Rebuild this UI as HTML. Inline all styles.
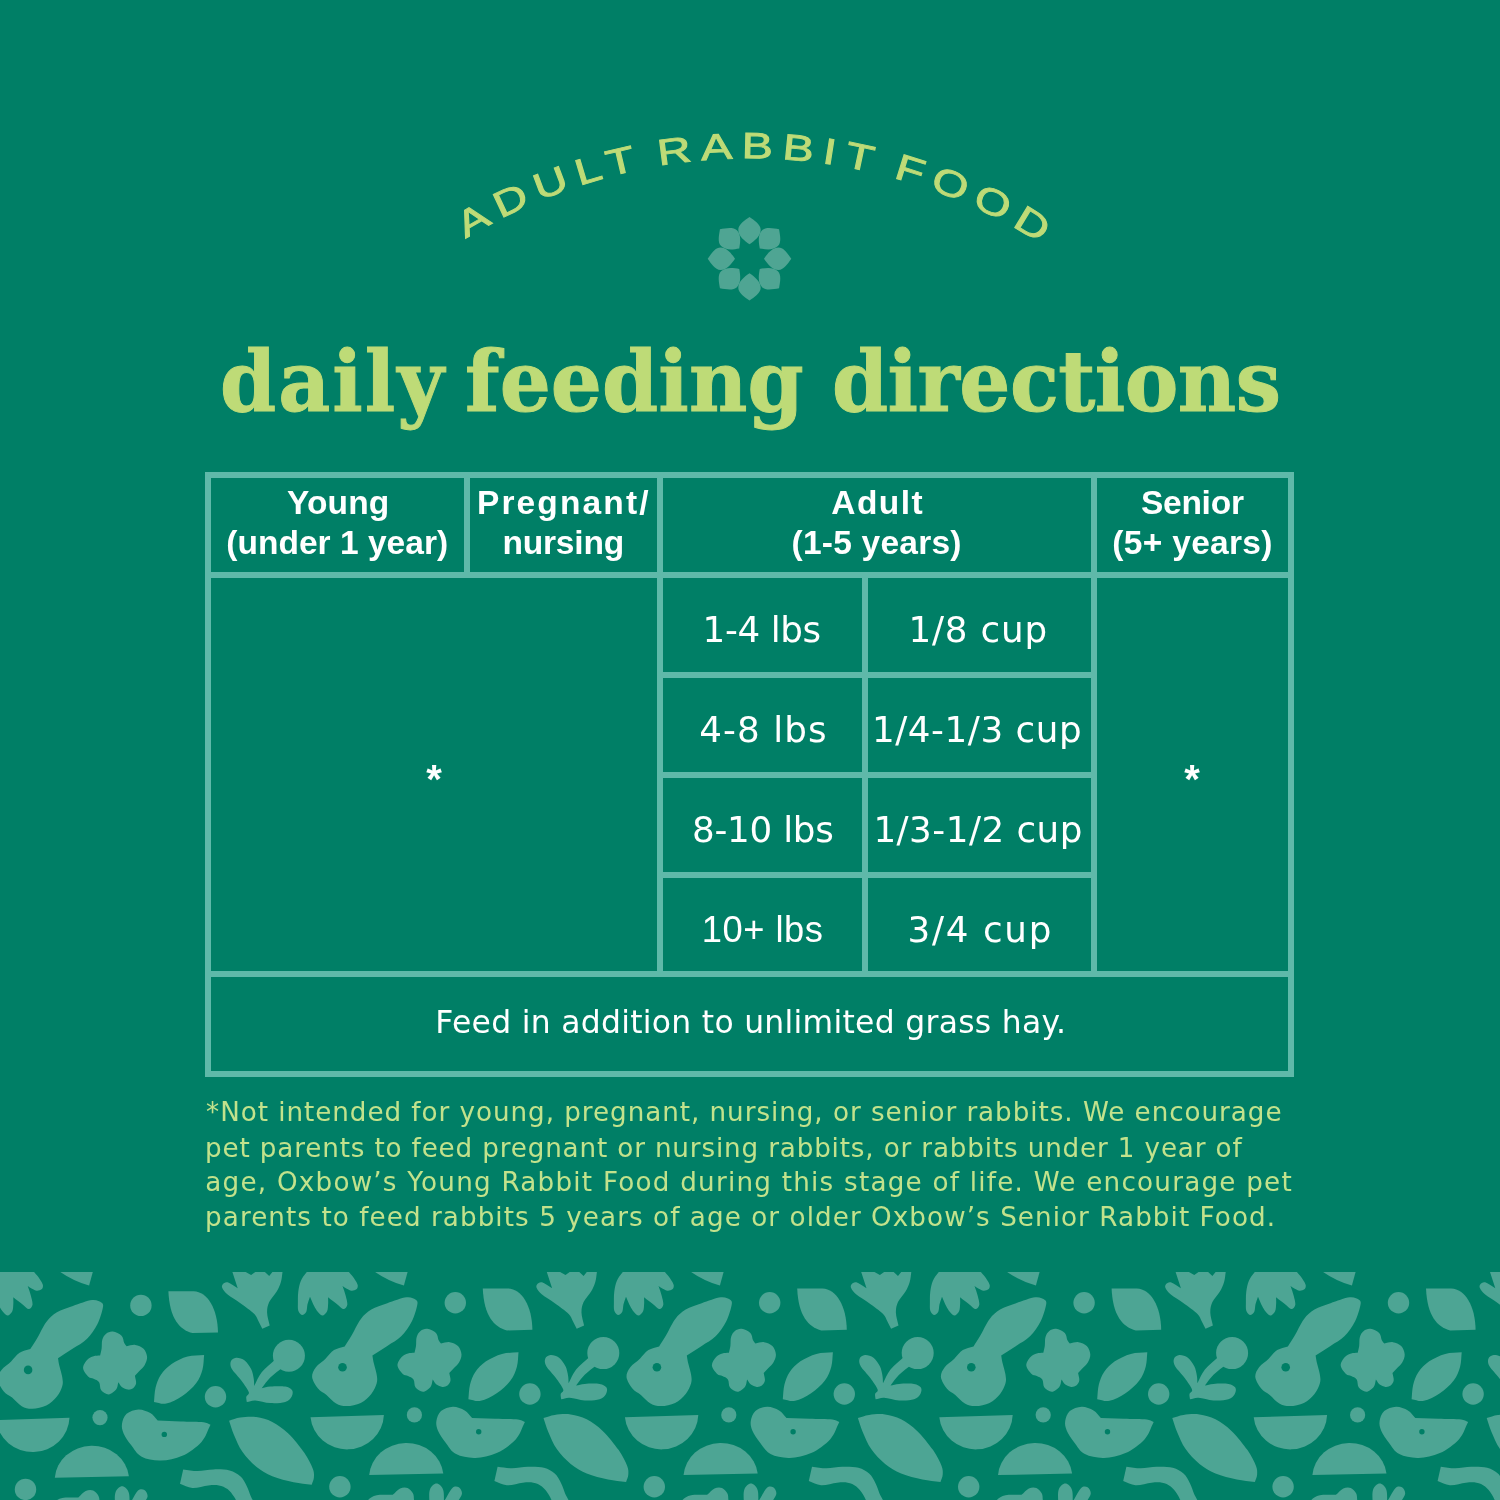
<!DOCTYPE html>
<html lang="en">
<head>
<meta charset="utf-8">
<title>Adult Rabbit Food – daily feeding directions</title>
<style>
html,body{margin:0;padding:0;}
body{width:1500px;height:1500px;background:#007f66;overflow:hidden;position:relative;font-family:"Liberation Sans",sans-serif;}
#page{position:absolute;left:0;top:0;width:1500px;height:1500px;overflow:hidden;background:#007f66;}
.ln{position:absolute;background:#5fb9a9;}
#arc{position:absolute;left:0;top:0;width:1500px;height:460px;}
#arc text{font-family:"Liberation Sans",sans-serif;font-weight:normal;fill:#bedb77;stroke:#bedb77;stroke-width:0.9px;}
.t.big{line-height:100px;-webkit-text-stroke:1px #bedb77;}
h1,p.note{margin:0;padding:0;font-size:inherit;font-weight:inherit;}
.t{display:block;position:absolute;white-space:nowrap;line-height:40px;margin:0;}
.ast{position:absolute;width:60px;height:60px;line-height:60px;text-align:center;color:#fff;font-family:"Liberation Sans",sans-serif;font-weight:bold;font-size:40px;}
#pat{position:absolute;left:0;top:1272px;width:1500px;height:228px;}
</style>
</head>
<body>
<div id="page">

<svg id="arc" viewBox="0 0 1500 460">
  <defs><path id="arcpath" d="M 208.9 699 A 540.6 540.6 0 0 1 1290.1 699"/></defs>
  <text font-size="36.5" letter-spacing="7" word-spacing="-6" text-anchor="middle" textLength="614.8" lengthAdjust="spacingAndGlyphs"><textPath href="#arcpath" startOffset="857.7">ADULT RABBIT FOOD</textPath></text>
  <g transform="translate(749.5,258.7)" fill="#4fa593">
    <defs><path id="petal" d="M0,-14.5 C5,-18 11.2,-22.5 11.2,-29 C11.2,-34.5 4.5,-38.5 0,-41.8 C-4.5,-38.5 -11.2,-34.5 -11.2,-29 C-11.2,-22.5 -5,-18 0,-14.5 Z"/></defs>
    <use href="#petal" transform="rotate(0)"/>
    <use href="#petal" transform="rotate(45)"/>
    <use href="#petal" transform="rotate(90)"/>
    <use href="#petal" transform="rotate(135)"/>
    <use href="#petal" transform="rotate(180)"/>
    <use href="#petal" transform="rotate(225)"/>
    <use href="#petal" transform="rotate(270)"/>
    <use href="#petal" transform="rotate(315)"/>
  </g>
</svg>


<!-- table lines -->
<div class="ln" style="left:205px;top:472px;width:1089px;height:6px"></div>
<div class="ln" style="left:205px;top:572px;width:1089px;height:6px"></div>
<div class="ln" style="left:205px;top:971px;width:1089px;height:6px"></div>
<div class="ln" style="left:205px;top:1071px;width:1089px;height:6px"></div>
<div class="ln" style="left:657px;top:672px;width:440px;height:6px"></div>
<div class="ln" style="left:657px;top:772px;width:440px;height:6px"></div>
<div class="ln" style="left:657px;top:872px;width:440px;height:6px"></div>
<div class="ln" style="left:205px;top:472px;width:6px;height:605px"></div>
<div class="ln" style="left:1288px;top:472px;width:6px;height:605px"></div>
<div class="ln" style="left:464px;top:472px;width:6px;height:106px"></div>
<div class="ln" style="left:657px;top:472px;width:6px;height:505px"></div>
<div class="ln" style="left:1091px;top:472px;width:6px;height:505px"></div>
<div class="ln" style="left:862px;top:572px;width:6px;height:405px"></div>

<h1>
<span class="t big" style="left:220.0px;top:331.4px;font-family:'DejaVu Serif','Liberation Serif',serif;font-size:85px;font-weight:bold;color:#bedb77;letter-spacing:2.12px;transform:scaleX(0.9455);transform-origin:0 0">daily</span>
<span class="t big" style="left:464.6px;top:331.4px;font-family:'DejaVu Serif','Liberation Serif',serif;font-size:85px;font-weight:bold;color:#bedb77;letter-spacing:0.07px;transform:scaleX(0.9455);transform-origin:0 0">feeding</span>
<span class="t big" style="left:831.8px;top:331.4px;font-family:'DejaVu Serif','Liberation Serif',serif;font-size:85px;font-weight:bold;color:#bedb77;letter-spacing:-0.61px;transform:scaleX(0.9455);transform-origin:0 0">directions</span>
</h1>
<div class="thead">
<span class="t" style="left:287.1px;top:483.1px;font-family:'Liberation Sans',sans-serif;font-size:33.5px;font-weight:bold;color:#fff;letter-spacing:0.10px">Young</span>
<span class="t" style="left:226.3px;top:522.9px;font-family:'Liberation Sans',sans-serif;font-size:33.5px;font-weight:bold;color:#fff;letter-spacing:0.02px">(under 1 year)</span>
<span class="t" style="left:476.9px;top:483.1px;font-family:'Liberation Sans',sans-serif;font-size:33.5px;font-weight:bold;color:#fff;letter-spacing:2.15px">Pregnant/</span>
<span class="t" style="left:502.5px;top:522.9px;font-family:'Liberation Sans',sans-serif;font-size:33.5px;font-weight:bold;color:#fff;letter-spacing:-0.20px">nursing</span>
<span class="t" style="left:831.3px;top:483.1px;font-family:'Liberation Sans',sans-serif;font-size:33.5px;font-weight:bold;color:#fff;letter-spacing:1.45px">Adult</span>
<span class="t" style="left:791.5px;top:522.9px;font-family:'Liberation Sans',sans-serif;font-size:33.5px;font-weight:bold;color:#fff;letter-spacing:0.24px">(1-5 years)</span>
<span class="t" style="left:1140.9px;top:483.1px;font-family:'Liberation Sans',sans-serif;font-size:33.5px;font-weight:bold;color:#fff;letter-spacing:-0.24px">Senior</span>
<span class="t" style="left:1112.3px;top:522.9px;font-family:'Liberation Sans',sans-serif;font-size:33.5px;font-weight:bold;color:#fff;letter-spacing:0.31px">(5+ years)</span>
</div>
<div class="tbody">
<span class="t" style="left:702.6px;top:610.2px;font-family:'DejaVu Sans','Liberation Sans',sans-serif;font-size:35.7px;color:#fff;letter-spacing:-0.40px">1-4 lbs</span>
<span class="t" style="left:908.4px;top:610.2px;font-family:'DejaVu Sans','Liberation Sans',sans-serif;font-size:35.7px;color:#fff;letter-spacing:0.83px">1/8 cup</span>
<span class="t" style="left:699.2px;top:710.0px;font-family:'DejaVu Sans','Liberation Sans',sans-serif;font-size:35.7px;color:#fff;letter-spacing:1.10px">4-8 lbs</span>
<span class="t" style="left:872.0px;top:710.0px;font-family:'DejaVu Sans','Liberation Sans',sans-serif;font-size:35.7px;color:#fff;letter-spacing:0.56px">1/4-1/3 cup</span>
<span class="t" style="left:692.0px;top:809.6px;font-family:'DejaVu Sans','Liberation Sans',sans-serif;font-size:35.7px;color:#fff;letter-spacing:-0.23px">8-10 lbs</span>
<span class="t" style="left:873.4px;top:809.6px;font-family:'DejaVu Sans','Liberation Sans',sans-serif;font-size:35.7px;color:#fff;letter-spacing:0.50px">1/3-1/2 cup</span>
<span class="t" style="left:701.8px;top:909.8px;font-family:'Liberation Sans',sans-serif;font-size:36.3px;color:#fff;letter-spacing:0.50px">10+ lbs</span>
<span class="t" style="left:907.6px;top:910.0px;font-family:'DejaVu Sans','Liberation Sans',sans-serif;font-size:35.7px;color:#fff;letter-spacing:1.67px">3/4 cup</span>
</div>
<div class="tfoot">
<span class="t" style="left:435.3px;top:1002.4px;font-family:'DejaVu Sans','Liberation Sans',sans-serif;font-size:31.4px;color:#fff;letter-spacing:0.30px">Feed in addition to unlimited grass hay.</span>
</div>

<div class="ast" style="left:404px;top:749px;">*</div>
<div class="ast" style="left:1162px;top:749px;">*</div>

<p class="note">
<span class="t" style="left:206.1px;top:1092.4px;font-family:'DejaVu Sans','Liberation Sans',sans-serif;font-size:26.2px;color:#c2e28c;letter-spacing:0.96px">*Not intended for young, pregnant, nursing, or senior rabbits. We encourage</span>
<span class="t" style="left:205.1px;top:1127.5px;font-family:'DejaVu Sans','Liberation Sans',sans-serif;font-size:26.2px;color:#c2e28c;letter-spacing:0.85px">pet parents to feed pregnant or nursing rabbits, or rabbits under 1 year of</span>
<span class="t" style="left:205.3px;top:1162.3px;font-family:'DejaVu Sans','Liberation Sans',sans-serif;font-size:26.2px;color:#c2e28c;letter-spacing:1.24px">age, Oxbow’s Young Rabbit Food during this stage of life. We encourage pet</span>
<span class="t" style="left:205.1px;top:1197.1px;font-family:'DejaVu Sans','Liberation Sans',sans-serif;font-size:26.2px;color:#c2e28c;letter-spacing:1.07px">parents to feed rabbits 5 years of age or older Oxbow’s Senior Rabbit Food.</span>
</p>

<svg id="pat" viewBox="0 1272 1500 228">
<defs><g id="tileB">
<path d="M348.9,1272.0C351.3,1274.8 352.8,1276.5 354.3,1278.7C355.8,1280.9 357.4,1283.3 357.7,1285.1C358.0,1286.9 357.4,1288.4 356.4,1289.3C355.4,1290.2 353.2,1290.8 351.6,1290.7C350.0,1290.6 348.3,1289.6 346.8,1288.8C345.3,1288.0 343.9,1287.0 342.5,1286.1C343.6,1289.3 344.9,1292.6 345.7,1295.7C346.5,1298.8 347.6,1302.6 347.3,1304.8C347.0,1307.0 345.1,1309.0 343.6,1309.1C342.1,1309.2 340.1,1306.6 338.3,1305.3C336.5,1304.0 334.6,1302.4 332.9,1301.1C331.2,1299.8 329.7,1298.6 328.1,1297.3C328.1,1299.6 328.3,1302.0 328.1,1304.3C327.9,1306.6 328.1,1309.3 327.1,1311.2C326.1,1313.1 324.0,1315.6 322.3,1315.5C320.6,1315.4 318.4,1312.6 316.9,1310.7C315.4,1308.8 314.3,1306.6 313.2,1304.3C312.1,1302.0 311.1,1299.3 310.0,1296.8C309.2,1299.3 308.1,1301.8 307.5,1304.3C306.9,1306.8 307.2,1309.9 306.3,1311.7C305.4,1313.5 303.3,1315.1 302.0,1314.9C300.7,1314.7 299.0,1312.8 298.3,1310.7C297.6,1308.6 297.9,1305.3 297.9,1302.1C297.9,1298.9 297.8,1295.0 298.3,1291.5C298.8,1288.0 299.5,1284.0 300.9,1280.8C302.3,1277.5 304.3,1275.1 306.8,1272.0C309.3,1268.9 310.5,1263.7 316.0,1262.0C321.5,1260.3 334.5,1260.3 340.0,1262.0C345.5,1263.7 346.5,1269.2 348.9,1272.0Z"/>
<path d="M375.1,1272 L374,1266 L409,1266 L407.6,1272 L403.9,1285.6 Q388,1281 375.1,1272Z"/>
</g><g id="tileT"><path d="M546.8,1272.0L552.1,1288.2C548.7,1286.2 544.5,1283.0 542.0,1282.3C539.8,1281.7 538.1,1283.2 537.2,1284.2C536.3,1285.2 536.0,1286.5 536.7,1288.1C537.5,1289.8 539.1,1292.1 542.0,1294.5C545.0,1297.0 550.3,1300.0 554.8,1303.2C559.2,1306.4 565.7,1310.9 568.7,1313.9C571.4,1316.6 571.6,1318.8 572.9,1321.3C574.2,1323.8 575.4,1326.3 576.7,1328.8L584.1,1325.6C583.2,1321.3 581.6,1316.7 581.5,1312.8C581.4,1308.9 582.0,1305.6 583.6,1302.1C585.2,1298.5 589.2,1294.9 591.1,1291.5C593.0,1288.1 594.3,1285.2 595.3,1281.9C596.3,1278.7 596.4,1275.3 596.9,1272.0L597.0,1266.0L586.8,1266.0L586.8,1272.0L583.6,1276.0L579.3,1272.0L579.3,1266.0L569.7,1266.0L569.7,1272.0L565.5,1274.9L560.1,1272.0L560.0,1266.0L546.0,1266.0L546.8,1272.0Z"/></g><g id="tile">
<path d="M312.1,1377.0C311.8,1373.5 313.7,1370.2 315.9,1367.2C318.1,1364.2 322.5,1361.6 325.5,1358.7C328.5,1355.8 330.8,1352.1 334.0,1350.1C337.2,1348.0 341.1,1347.6 344.7,1346.4C346.8,1343.0 348.4,1340.8 351.1,1336.3C353.8,1331.8 357.3,1323.7 360.7,1319.2C364.1,1314.8 366.9,1312.3 371.3,1309.6C375.7,1306.9 381.4,1305.2 387.3,1303.2C393.2,1301.2 401.7,1297.8 406.5,1297.3C411.0,1296.8 414.3,1298.7 416.1,1300.0C417.9,1301.3 417.7,1302.9 417.2,1305.3C416.5,1308.8 414.6,1316.1 411.9,1321.3C409.2,1326.5 405.3,1332.2 401.2,1336.3C397.1,1340.4 392.1,1342.7 387.3,1345.9C382.5,1349.1 377.4,1352.3 372.4,1355.5C372.8,1357.7 372.9,1359.1 373.5,1362.0C374.2,1365.2 376.2,1371.2 376.7,1374.7C377.2,1378.2 377.6,1380.0 376.7,1383.2C375.8,1386.4 374.0,1390.6 371.3,1393.9C368.6,1397.2 364.8,1400.9 360.7,1402.9C356.6,1404.9 350.9,1406.0 346.8,1406.1C342.7,1406.2 339.5,1405.4 336.1,1403.5C332.7,1401.6 329.5,1397.4 326.5,1394.9C323.5,1392.4 320.4,1391.5 318.0,1388.5C315.6,1385.5 312.5,1380.5 312.1,1377.0Z"/>
<path d="M427.3,1328.8C429.9,1329.1 434.1,1331.1 436.0,1333.0C437.9,1334.9 437.7,1338.2 438.5,1340.0C439.3,1341.7 440.2,1342.3 441.0,1343.5C443.9,1343.1 446.9,1341.8 449.7,1342.2C452.5,1342.6 456.0,1344.0 458.0,1346.0C460.0,1348.0 461.3,1351.7 461.5,1354.4C461.7,1357.2 460.2,1360.2 459.0,1362.5C457.8,1364.8 455.6,1366.2 454.0,1368.0C452.4,1369.8 450.9,1371.3 449.3,1373.0C449.7,1375.5 450.8,1378.4 450.5,1380.5C450.2,1382.6 448.9,1384.4 447.5,1385.5C446.1,1386.6 444.1,1387.1 442.3,1386.9C440.5,1386.7 438.1,1385.7 436.5,1384.5C434.9,1383.3 434.0,1381.2 432.7,1379.5C432.0,1382.0 432.1,1384.9 430.5,1386.9C428.9,1388.9 425.6,1391.6 423.1,1391.7C420.6,1391.8 417.2,1389.5 415.6,1387.5C414.0,1385.5 414.8,1381.4 413.5,1379.5C412.2,1377.6 409.8,1376.9 408.0,1376.0C406.2,1375.1 404.6,1375.8 402.8,1374.1C401.1,1372.4 397.7,1368.4 397.5,1365.6C397.3,1362.8 399.9,1359.1 401.7,1357.1C403.4,1355.1 405.9,1354.2 408.0,1353.5C410.1,1352.8 412.3,1353.0 414.5,1352.8C415.0,1350.5 415.6,1348.6 416.0,1346.0C416.4,1343.4 415.9,1339.5 416.7,1337.0C417.4,1334.5 418.7,1332.4 420.5,1331.0C422.3,1329.6 424.7,1328.5 427.3,1328.8Z"/>
<path d="M482.8,1288.5 L508,1288.5 C522,1289 532,1306 532.4,1329.8 L507,1330.4 C494,1327 484,1316 482.8,1288.5Z"/>
<path d="M518.5,1352.3C518.0,1357.1 518.2,1362.0 516.9,1366.7C515.6,1371.4 513.9,1376.1 510.5,1380.5C507.1,1384.9 501.7,1389.9 496.7,1393.3C491.7,1396.7 485.4,1399.8 480.7,1400.8C476.0,1401.8 472.5,1399.7 468.4,1399.2C468.9,1394.4 468.9,1389.3 470.0,1384.8C471.1,1380.3 472.6,1375.9 475.3,1372.0C478.0,1368.1 481.6,1364.3 486.0,1361.3C490.4,1358.3 496.6,1355.4 502.0,1353.9C507.4,1352.4 513.0,1352.8 518.5,1352.3Z"/>
<path d="M563.3,1389.7C562.5,1387.0 558.7,1381.9 555.9,1378.0C553.1,1374.1 548.1,1369.5 546.3,1366.3C544.6,1363.3 544.5,1360.7 545.2,1358.8C545.9,1356.9 548.2,1355.3 550.5,1355.1C552.8,1354.9 556.6,1355.8 559.1,1357.7C561.6,1359.6 564.0,1363.3 565.5,1366.3C567.0,1369.3 567.6,1373.1 568.1,1375.9C568.6,1378.7 568.4,1380.8 568.6,1383.3C571.1,1378.7 572.5,1374.0 576.1,1369.5C579.7,1365.0 585.4,1360.8 590.0,1356.5L597.5,1364.5C593.2,1367.9 588.3,1371.3 584.7,1374.8C581.1,1378.3 579.0,1381.9 576.1,1385.5C579.0,1385.0 580.8,1384.2 584.7,1383.9C588.6,1383.6 596.0,1383.3 599.6,1383.9C603.1,1384.5 605.4,1385.9 606.5,1387.6C607.6,1389.3 607.1,1392.0 606.0,1394.0C604.9,1396.0 603.1,1398.2 599.6,1399.3C596.1,1400.4 589.7,1400.7 584.7,1400.4C579.7,1400.1 573.6,1397.9 569.7,1397.7C565.8,1397.5 564.0,1398.8 561.2,1399.3C561.0,1397.5 560.4,1395.6 560.7,1394.0C561.1,1392.4 563.9,1391.9 563.3,1389.7Z"/>
<path d="M310.5,1417.3 L383.9,1415 A36.8,35.6 -2 0 1 310.5,1417.3Z"/>
<path d="M436.4,1421.1C436.9,1417.8 438.2,1413.4 441.0,1411.0C443.8,1408.6 448.9,1406.8 452.9,1406.7C456.8,1406.6 461.5,1408.5 464.7,1410.4C467.9,1412.3 469.6,1415.4 472.1,1417.9L495.0,1418.7C502.7,1419.0 513.0,1418.9 518.0,1419.5C521.3,1419.9 522.6,1421.2 524.9,1422.1C521.9,1427.8 520.6,1434.0 515.9,1439.2C511.2,1444.4 503.5,1450.0 496.7,1453.1C489.9,1456.2 482.1,1457.7 475.3,1457.9C468.5,1458.1 461.1,1456.7 456.1,1454.1C451.1,1451.5 448.5,1446.3 445.5,1442.4C442.5,1438.5 439.5,1434.2 438.0,1430.7C436.5,1427.2 435.9,1424.4 436.4,1421.1Z"/>
<path d="M543.5,1418.1C547.2,1417.0 550.2,1415.5 554.7,1414.9C559.2,1414.3 565.4,1413.7 570.7,1414.4C576.0,1415.1 581.4,1416.5 586.7,1419.2C592.0,1422.0 597.4,1425.8 602.7,1430.9C608.0,1436.1 614.6,1444.2 618.7,1450.1C622.8,1456.0 625.6,1462.0 627.2,1466.1C628.6,1469.7 628.5,1472.0 628.3,1474.7C628.1,1477.4 626.8,1479.6 626.1,1482.1C620.1,1481.2 614.6,1480.9 608.0,1479.5C601.4,1478.1 592.9,1476.2 586.7,1473.6C580.5,1471.0 575.7,1468.1 570.7,1464.0C565.7,1459.9 560.5,1454.4 556.8,1449.1C553.1,1443.8 550.5,1437.2 548.3,1432.0C546.1,1426.8 545.1,1422.7 543.5,1418.1Z"/>
<path d="M369.2,1475.1 A37.2,34.2 -1.3 0 1 443.3,1473.5Z"/>
<path d="M497.6,1466.7C502.4,1467.2 506.9,1468.3 512.0,1468.3C517.1,1468.3 522.7,1466.8 528.0,1466.7C533.3,1466.6 539.5,1466.6 544.0,1467.7C548.5,1468.8 551.9,1471.0 554.7,1473.6C557.6,1476.2 559.3,1479.8 561.1,1483.2C562.9,1486.6 564.1,1491.1 565.3,1493.9C566.5,1496.7 567.7,1498.0 568.5,1500.0C569.3,1502.0 569.5,1504.0 570.0,1506.0L553.0,1506.0C552.5,1504.0 552.3,1502.0 551.5,1500.0C550.7,1498.0 549.9,1496.2 548.3,1493.9C546.7,1491.6 544.4,1488.3 541.9,1486.4C539.4,1484.5 536.5,1483.3 533.3,1482.7C530.1,1482.1 527.1,1482.3 522.7,1482.7C518.3,1483.1 511.4,1485.6 506.7,1485.3C502.0,1485.0 498.5,1482.5 494.4,1481.1L497.6,1466.7Z"/>
<path d="M366.0,1506.0C366.7,1504.0 366.3,1501.8 368.1,1500.0C369.9,1498.2 372.6,1496.2 376.7,1495.3C380.8,1494.4 387.4,1495.0 392.7,1494.8C395.2,1492.7 397.6,1489.6 400.1,1488.4C402.6,1487.2 405.5,1487.1 407.6,1487.9C409.7,1488.7 411.8,1491.2 412.9,1493.2C414.0,1495.2 413.8,1497.9 414.0,1500.0C414.2,1502.1 414.0,1504.0 414.0,1506.0L366.0,1506.0Z"/>
<path d="M429.5,1506.0C429.6,1500.7 428.6,1493.7 429.8,1490.0C431.0,1486.3 434.3,1483.6 436.5,1483.6C438.7,1483.6 442.0,1486.3 443.2,1490.0C444.4,1493.7 443.7,1500.7 443.9,1506.0L429.5,1506.0Z"/>
<path d="M444.9,1500.0C447.4,1496.0 450.1,1490.0 452.4,1487.9C454.5,1485.9 457.2,1486.4 458.8,1487.3C460.4,1488.2 462.0,1491.1 462.0,1493.2C462.0,1495.3 459.8,1497.9 458.8,1500.0C457.8,1502.1 456.9,1504.0 456.0,1506.0L443.0,1506.0L444.9,1500.0Z"/>
<circle cx="455.3" cy="1302.7" r="10.7"/>
<circle cx="529.9" cy="1394.0" r="10.7"/>
<circle cx="414.4" cy="1414.9" r="7.6"/>
<circle cx="339.9" cy="1486.7" r="10.7"/>
<circle cx="603.3" cy="1353.1" r="16.0"/>
<circle cx="342.5" cy="1367.2" r="4.3" fill="#007f66"/>
<circle cx="478.7" cy="1431.7" r="2.7" fill="#007f66"/>
</g></defs>
<g fill="#4da594">
<use href="#tile" x="-628.8"/>
<use href="#tile" x="-314.4" y="2.7"/>
<use href="#tile" x="0.0"/>
<use href="#tile" x="314.4"/>
<use href="#tile" x="628.8"/>
<use href="#tile" x="943.2"/>
<use href="#tileT" x="-628.8"/>
<use href="#tileT" x="-314.4"/>
<use href="#tileT" x="0.0"/>
<use href="#tileT" x="314.4"/>
<use href="#tileT" x="628.8"/>
<use href="#tileT" x="943.2"/>
<use href="#tileB" x="-314.8"/>
<use href="#tileB" x="0.0"/>
<use href="#tileB" x="316.0"/>
<use href="#tileB" x="632.0"/>
<use href="#tileB" x="948.0"/>
</g>
</svg>

</div>
</body>
</html>
